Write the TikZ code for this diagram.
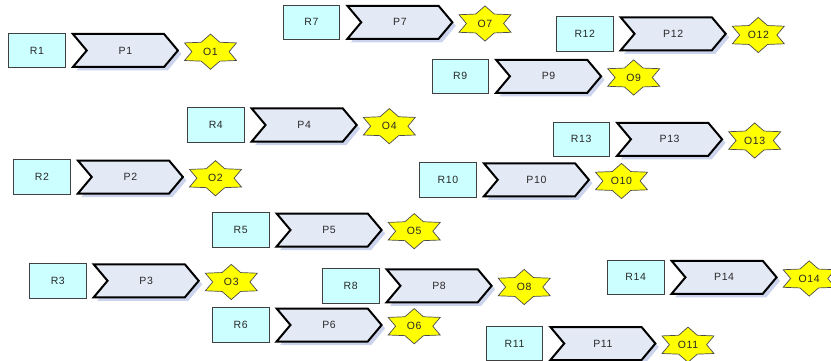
\documentclass[tikz,border=0pt]{standalone}
\usepackage{fontspec}
\setmainfont[LetterSpace=6]{Liberation Sans}
\usetikzlibrary{positioning}
\usetikzlibrary{calc}
\usetikzlibrary{shapes.symbols}
\usetikzlibrary{shadows}

\definecolor{rcyan}{RGB}{204,255,255}
\definecolor{plav}{RGB}{228,233,246}
\definecolor{pshadow}{RGB}{203,212,236}
\definecolor{oyellow}{RGB}{255,255,0}
\definecolor{textgray}{RGB}{40,40,40}

\begin{document}
\begin{tikzpicture}[
            x=1pt, y=-1pt,
            every node/.style={font=\fontsize{10.5}{12}\selectfont, text=textgray},
            rbox/.style={rectangle, draw=black!75, fill=rcyan, line width=0.8pt, minimum width=56.5pt, minimum height=34.5pt, inner sep=0pt},
            pbox/.style={signal, signal to=east, signal from=west, signal pointer angle=100, draw=black, fill=plav, line width=2pt, minimum width=105pt, minimum height=33pt, inner sep=0pt,
                drop shadow={shadow xshift=3.5pt, shadow yshift=-3.5pt, fill=pshadow, opacity=1}},
            ostar/.style={draw=black!70, fill=oyellow, line width=0.7pt, line join=miter},
            ]

            \useasboundingbox (0,0) rectangle (831,361);
            \clip (0,0) rectangle (831,361);

            % request -> process -> outcome
            \foreach \n/\x/\y in {1/37/50.5, 2/42/177, 3/57.8/280.8, 4/215.8/125, 5/240.7/230,
                                  6/240.7/325, 7/311.5/22.3, 8/350.7/285.8, 9/460.2/76.3, 10/448/179.8,
                                  11/514.5/343.5, 12/584.8/33.8, 13/581.2/139.3, 14/635.7/277.3}{
                \node[rbox] (R\n) at (\x,\y) {R\n};
                \node[pbox] (P\n) at ([xshift=88.4pt]R\n.center) {P\n};
                \coordinate (S\n) at ([xshift=173.5pt, yshift=-1.2pt]R\n.center);
                \draw[ostar, shift={(S\n)}]
                    (30:30pt and 17.6pt) -- (60:18.6pt and 10.9pt) -- (90:30pt and 17.6pt) -- (120:18.6pt and 10.9pt)
                    -- (150:30pt and 17.6pt) -- (180:18.6pt and 10.9pt) -- (210:30pt and 17.6pt) -- (240:18.6pt and 10.9pt)
                    -- (270:30pt and 17.6pt) -- (300:18.6pt and 10.9pt) -- (330:30pt and 17.6pt) -- (360:18.6pt and 10.9pt) -- cycle;
                \node (O\n) at (S\n) {O\n};
            }
        \end{tikzpicture}
\end{document}
